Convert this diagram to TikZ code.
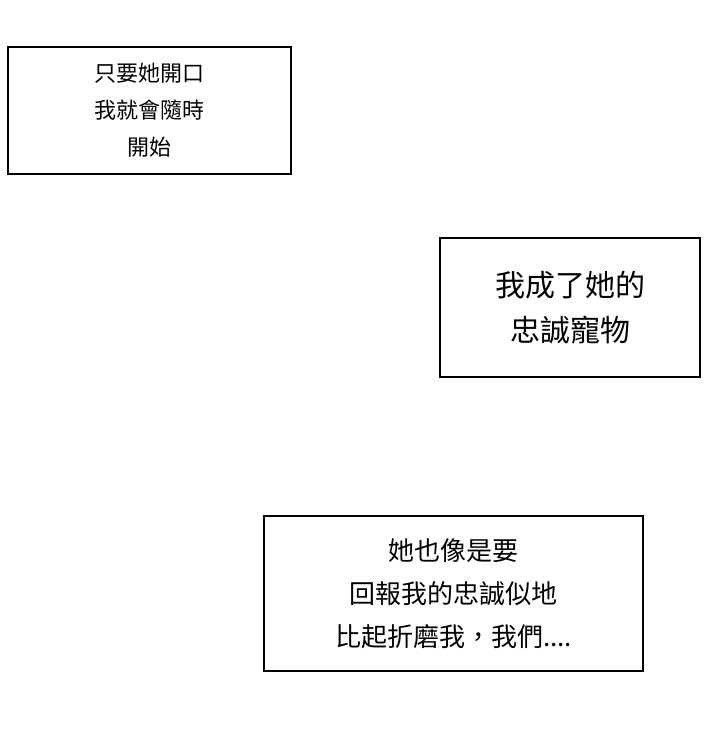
\documentclass[tikz,border=0pt]{standalone}
\usepackage{fontspec}
\setmainfont{Noto Sans CJK TC}
\usetikzlibrary{positioning}

\begin{document}
\begin{tikzpicture}[x=1pt, y=1pt,
    talkbox/.style={rectangle, draw, line width=1.6pt, align=center, inner sep=0pt}]

    \useasboundingbox (0,0) rectangle (720,-754);

    \node[talkbox, minimum width=283pt, minimum height=127pt,
        font=\fontsize{22pt}{37pt}\selectfont] (b1) at (149.5,-110.5)
        {只要她開口\\我就會隨時\\開始};
    \node[talkbox, minimum width=260pt, minimum height=139pt,
        font=\fontsize{30pt}{45pt}\selectfont] (b2) at (570,-307.5)
        {我成了她的\\忠誠寵物};
    \node[talkbox, minimum width=379pt, minimum height=155pt,
        font=\fontsize{26pt}{43pt}\selectfont] (b3) at (453.5,-593.5)
        {她也像是要\\回報我的忠誠似地\\比起折磨我，我們....};

\end{tikzpicture}
\end{document}
